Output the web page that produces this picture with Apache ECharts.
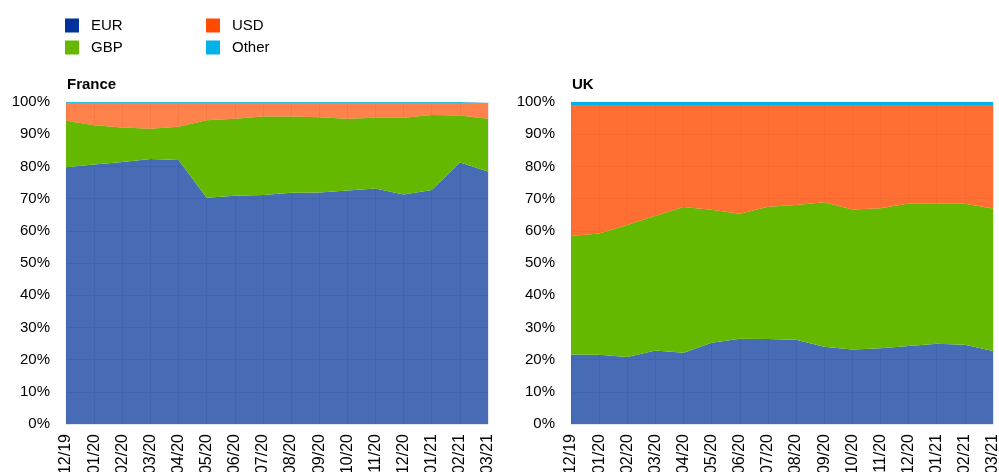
<!DOCTYPE html>
<html>
<head>
<meta charset="utf-8">
<script src="https://cdn.jsdelivr.net/npm/echarts@6/dist/echarts.min.js"></script>
<style>
  html, body { margin: 0; padding: 0; background: #fff; }
  #chart { width: 999px; height: 472px; }
</style>
</head>
<body>
<div id="chart"></div>
<script>
const months = ['12/19', '01/20', '02/20', '03/20', '04/20', '05/20', '06/20', '07/20',
  '08/20', '09/20', '10/20', '11/20', '12/20', '01/21', '02/21', '03/21']
const yTicks = [0, 10, 20, 30, 40, 50, 60, 70, 80, 90, 100]

// shares in %, stacked EUR -> GBP -> USD -> Other
const franceEur = [79.7, 80.6, 81.4, 82.3, 82.0, 70.3, 70.9, 71.1, 71.8, 71.9, 72.5, 73.1, 71.3, 72.7, 81.2, 78.4]
const franceGbp = [14.5, 12.2, 10.7, 9.4, 10.3, 24.0, 23.9, 24.4, 23.7, 23.4, 22.3, 22.0, 23.8, 23.3, 14.6, 16.4]
const franceUsd = [5.5, 6.9, 7.6, 8.0, 7.4, 5.4, 4.9, 4.2, 4.2, 4.4, 4.9, 4.6, 4.6, 3.7, 3.9, 4.9]
const franceOther = [0.3, 0.3, 0.3, 0.3, 0.3, 0.3, 0.3, 0.3, 0.3, 0.3, 0.3, 0.3, 0.3, 0.3, 0.3, 0.3]

const ukEur = [21.6, 21.5, 20.8, 22.8, 22.1, 25.2, 26.5, 26.4, 26.2, 24.0, 23.1, 23.5, 24.2, 24.9, 24.6, 22.7]
const ukGbp = [36.8, 37.7, 41.0, 41.9, 45.3, 41.3, 38.8, 41.1, 41.8, 44.9, 43.5, 43.5, 44.3, 43.5, 43.8, 44.2]
const ukUsd = [40.7, 39.9, 37.3, 34.4, 31.7, 32.6, 33.8, 31.6, 31.1, 30.2, 32.5, 32.1, 30.6, 30.7, 30.7, 32.2]
const ukOther = [0.9, 0.9, 0.9, 0.9, 0.9, 0.9, 0.9, 0.9, 0.9, 0.9, 0.9, 0.9, 0.9, 0.9, 0.9, 0.9]

const colors = { EUR: '#003299', GBP: '#65b800', USD: '#ff4b00', Other: '#00b1ea' }
const font = 'Liberation Sans, Arial, sans-serif'
const gridColor = '#e4e4e4'

const chart = echarts.init(document.getElementById('chart'))

function areaSeries(name, data, idx, stack, opacity) {
  return {
    name,
    type: 'line',
    stack,
    data,
    xAxisIndex: idx,
    yAxisIndex: idx,
    symbol: 'none',
    lineStyle: { width: 0 },
    itemStyle: { color: colors[name] },
    areaStyle: { color: colors[name], opacity },
    emphasis: { disabled: true },
  }
}

function xAxis(gridIndex) {
  return {
    type: 'category',
    gridIndex,
    data: months,
    boundaryGap: false,
    axisTick: { show: false },
    axisLine: { lineStyle: { color: gridColor } },
    splitLine: { show: true, lineStyle: { color: gridColor } },
    axisLabel: { rotate: 90, interval: 0, color: '#000', fontSize: 16, fontFamily: font, margin: 10 },
  }
}

function yAxis(gridIndex) {
  return {
    type: 'value',
    gridIndex,
    min: yTicks[0],
    max: yTicks[yTicks.length - 1],
    interval: 10,
    axisLine: { show: true, lineStyle: { color: gridColor } },
    axisTick: { show: false },
    splitLine: { lineStyle: { color: gridColor } },
    axisLabel: { formatter: '{value}%', color: '#000', fontSize: 15, fontFamily: font, margin: 16 },
  }
}

const legendBase = {
  orient: 'vertical',
  top: 13,
  itemWidth: 14,
  itemHeight: 14,
  itemGap: 7,
  icon: 'rect',
  selectedMode: false,
  textStyle: { color: '#000', fontSize: 15, fontFamily: font, padding: [0, 0, 0, 7] },
}

chart.setOption({
  animation: false,
  textStyle: { fontFamily: font },
  title: [
    { text: 'France', left: 62, top: 72, textStyle: { fontSize: 15, fontWeight: 'bold', color: '#000', fontFamily: font } },
    { text: 'UK', left: 567, top: 72, textStyle: { fontSize: 15, fontWeight: 'bold', color: '#000', fontFamily: font } },
  ],
  legend: [
    Object.assign({}, legendBase, { left: 60, data: ['EUR', 'GBP'] }),
    Object.assign({}, legendBase, { left: 201, data: ['USD', 'Other'] }),
  ],
  grid: [
    { left: 66, top: 102, width: 422, height: 322, outerBoundsMode: 'none' },
    { left: 571, top: 102, width: 422, height: 322, outerBoundsMode: 'none' },
  ],
  xAxis: [xAxis(0), xAxis(1)],
  yAxis: [yAxis(0), yAxis(1)],
  series: [
    areaSeries('EUR', franceEur, 0, 'fr', 0.72),
    areaSeries('GBP', franceGbp, 0, 'fr', 1),
    areaSeries('USD', franceUsd, 0, 'fr', 0.7),
    areaSeries('Other', franceOther, 0, 'fr', 0.8),
    areaSeries('EUR', ukEur, 1, 'uk', 0.72),
    areaSeries('GBP', ukGbp, 1, 'uk', 1),
    areaSeries('USD', ukUsd, 1, 'uk', 0.8),
    areaSeries('Other', ukOther, 1, 'uk', 1),
  ],
})
</script>
</body>
</html>
